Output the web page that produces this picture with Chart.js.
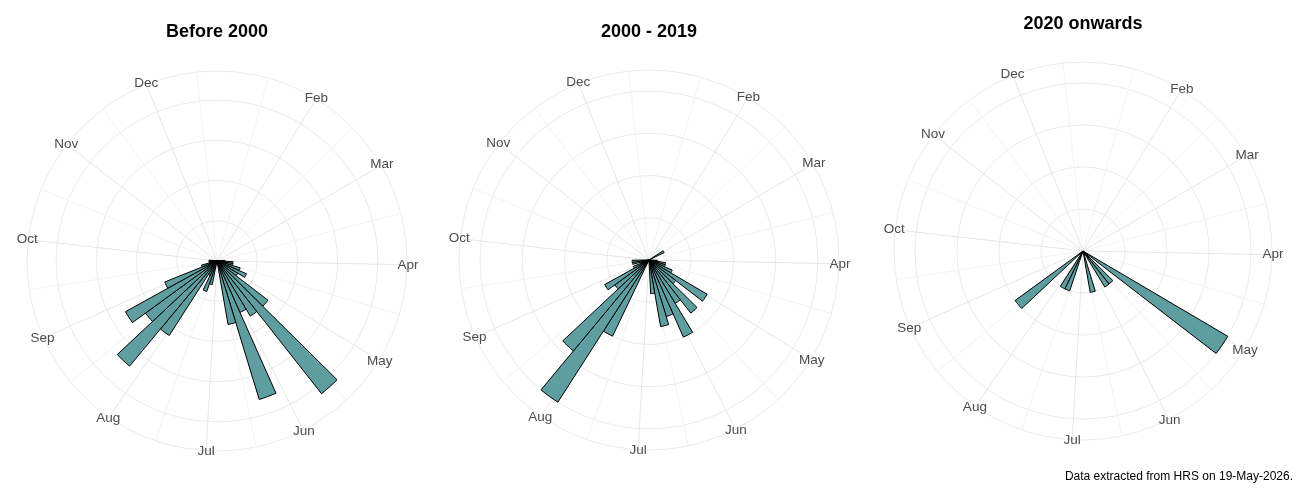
<!DOCTYPE html>
<html>
<head>
<meta charset="utf-8">
<script src="https://cdn.jsdelivr.net/npm/chart.js@4"></script>
<style>
  body { margin: 0; background: #fff; }
  #wrap { position: relative; width: 1300px; height: 500px; overflow: hidden; }
  canvas { position: absolute; top: 0; }
  #note {
    position: absolute; right: 7px; top: 469px;
    font: 12px/14px "Liberation Sans", Arial, sans-serif; color: #000;
  }
</style>
</head>
<body>
<div id="wrap">
  <canvas id="c1" width="434" height="490" style="left:0"></canvas>
  <canvas id="c2" width="434" height="490" style="left:434px"></canvas>
  <canvas id="c3" width="432" height="490" style="left:868px"></canvas>
  <div id="note">Data extracted from HRS on 19-May-2026.</div>
</div>
<script>
// Month axis (day of year where each month starts)
const MONTHS = ['Jan', 'Feb', 'Mar', 'Apr', 'May', 'Jun', 'Jul', 'Aug', 'Sep', 'Oct', 'Nov', 'Dec'];
const MONTH_START_DAY = [1, 32, 60, 91, 121, 152, 182, 213, 244, 274, 305, 335];
const YEAR_END_DAY = 366;
const THETA_SPAN_DAYS = 355.5; // days spread over the full circle

// Weekly bins
const WEEKS = [1, 2, 3, 4, 5, 6, 7, 8, 9, 10, 11, 12, 13, 14, 15, 16, 17, 18, 19, 20,
    21, 22, 23, 24, 25, 26, 27, 28, 29, 30, 31, 32, 33, 34, 35, 36, 37, 38, 39, 40,
    41, 42, 43, 44, 45, 46, 47, 48, 49, 50, 51];

// counts per week
const before2000 = [0, 0, 0, 0, 0, 0, 0, 0, 0, 0, 0, 0, 1, 2, 2, 3, 4, 3, 8, 21,
    8, 7, 18, 8, 0, 0, 0, 3, 4, 2, 11, 17, 11, 13, 7, 2, 1, 1, 1, 0,
    0, 0, 0, 0, 0, 0, 0, 0, 0, 0, 0];
const from2000to2019 = [0, 0, 0, 0, 0, 0, 0, 0, 2, 0, 0, 0, 0, 1, 2, 2, 3, 8, 4, 8,
    6, 10, 7, 8, 4, 0, 0, 0, 0, 10, 20, 14, 5, 6, 2, 1, 2, 2, 0, 0,
    0, 0, 0, 0, 0, 0, 0, 0, 0, 0, 0];
const since2020 = [0, 0, 0, 0, 0, 0, 0, 0, 0, 0, 0, 0, 0, 0, 0, 0, 0, 4, 0, 1,
    1, 0, 0, 1, 0, 0, 0, 0, 1, 1, 0, 0, 2, 0, 0, 0, 0, 0, 0, 0,
    0, 0, 0, 0, 0, 0, 0, 0, 0, 0, 0];

const BREAK_STEPS = [5, 5, 1];
const TITLES = ['Before 2000', '2000 - 2019', '2020 onwards'];

const FONT = '"Liberation Sans", Arial, sans-serif';
const DEG_PER_DAY = 360 / THETA_SPAN_DAYS;

function dayToRad(day) {
    return ((day - 1) * DEG_PER_DAY) * Math.PI / 180 - Math.PI / 2;
}

// spokes under the bars and month labels on the outer ring
const polarFrame = {
    id: 'polarFrame',
    beforeDatasetsDraw(chart) {
        const scale = chart.scales.r;
        const ctx = chart.ctx;
        const R = scale.getDistanceFromCenterForValue(scale.max);
        const spoke = (day, color) => {
            const a = dayToRad(day);
            ctx.beginPath();
            ctx.moveTo(scale.xCenter, scale.yCenter);
            ctx.lineTo(scale.xCenter + R * Math.cos(a), scale.yCenter + R * Math.sin(a));
            ctx.strokeStyle = color;
            ctx.stroke();
        };
        ctx.save();
        ctx.lineWidth = 1;
        MONTH_START_DAY.forEach((d, i) => {
            const next = i < MONTH_START_DAY.length - 1 ? MONTH_START_DAY[i + 1] : YEAR_END_DAY;
            spoke((d + next) / 2, '#F3F3F3');
        });
        MONTH_START_DAY.forEach((d, i) => {
            if (i > 0) spoke(d, '#E6E6E6');
        });
        ctx.restore();
    },
    afterDraw(chart) {
        const scale = chart.scales.r;
        const ctx = chart.ctx;
        const R = scale.getDistanceFromCenterForValue(scale.max) + 1;
        ctx.save();
        ctx.font = '13.5px ' + FONT;
        ctx.fillStyle = '#4D4D4D';
        ctx.textAlign = 'center';
        ctx.textBaseline = 'middle';
        MONTH_START_DAY.forEach((d, i) => {
            if (i === 0) return; // Jan sits on the seam and is not labelled
            const a = dayToRad(d);
            ctx.fillText(MONTHS[i], scale.xCenter + R * Math.cos(a), scale.yCenter + R * Math.sin(a));
        });
        ctx.restore();
    }
};

function makeRose(id, title, values, step, layout) {
    const top = Math.max(...values);
    const rMax = top * 0.45 / 0.4;
    const breaks = [];
    for (let v = 0; v <= top + 1e-9; v += step) breaks.push(v);

    return new Chart(document.getElementById(id), {
        type: 'polarArea',
        data: {
            labels: WEEKS,
            datasets: [{
                data: values,
                angle: 7 * DEG_PER_DAY,
                backgroundColor: '#5F9EA0',
                borderColor: '#000000',
                borderWidth: c => (c.raw > 0 ? 1 : 0),
                borderJoinStyle: 'miter'
            }]
        },
        options: {
            responsive: false,
            animation: false,
            layout: { padding: layout.padding },
            plugins: {
                legend: { display: false },
                tooltip: { enabled: false },
                title: {
                    display: true,
                    text: title,
                    color: '#000',
                    font: { family: FONT, size: 18, weight: 'bold' },
                    padding: layout.titlePadding
                }
            },
            scales: {
                r: {
                    min: 0,
                    max: rMax,
                    startAngle: 0,
                    ticks: { display: false },
                    afterBuildTicks: axis => {
                        axis.ticks = breaks.concat([rMax]).map(v => ({ value: v }));
                    },
                    grid: { circular: true, color: '#EBEBEB', lineWidth: 1 },
                    angleLines: { display: false },
                    pointLabels: { display: false }
                }
            }
        },
        plugins: [polarFrame]
    });
}

makeRose('c1', TITLES[0], before2000, BREAK_STEPS[0], {
    padding: { left: 27, right: 27, top: 0, bottom: 39 },
    titlePadding: { top: 21, bottom: 28.4 }
});
makeRose('c2', TITLES[1], from2000to2019, BREAK_STEPS[1], {
    padding: { left: 25, right: 29, top: 0, bottom: 40 },
    titlePadding: { top: 21, bottom: 27.4 }
});
makeRose('c3', TITLES[2], since2020, BREAK_STEPS[2], {
    padding: { left: 26, right: 28, top: 0, bottom: 50 },
    titlePadding: { top: 13.7, bottom: 26.7 }
});
</script>
</body>
</html>
